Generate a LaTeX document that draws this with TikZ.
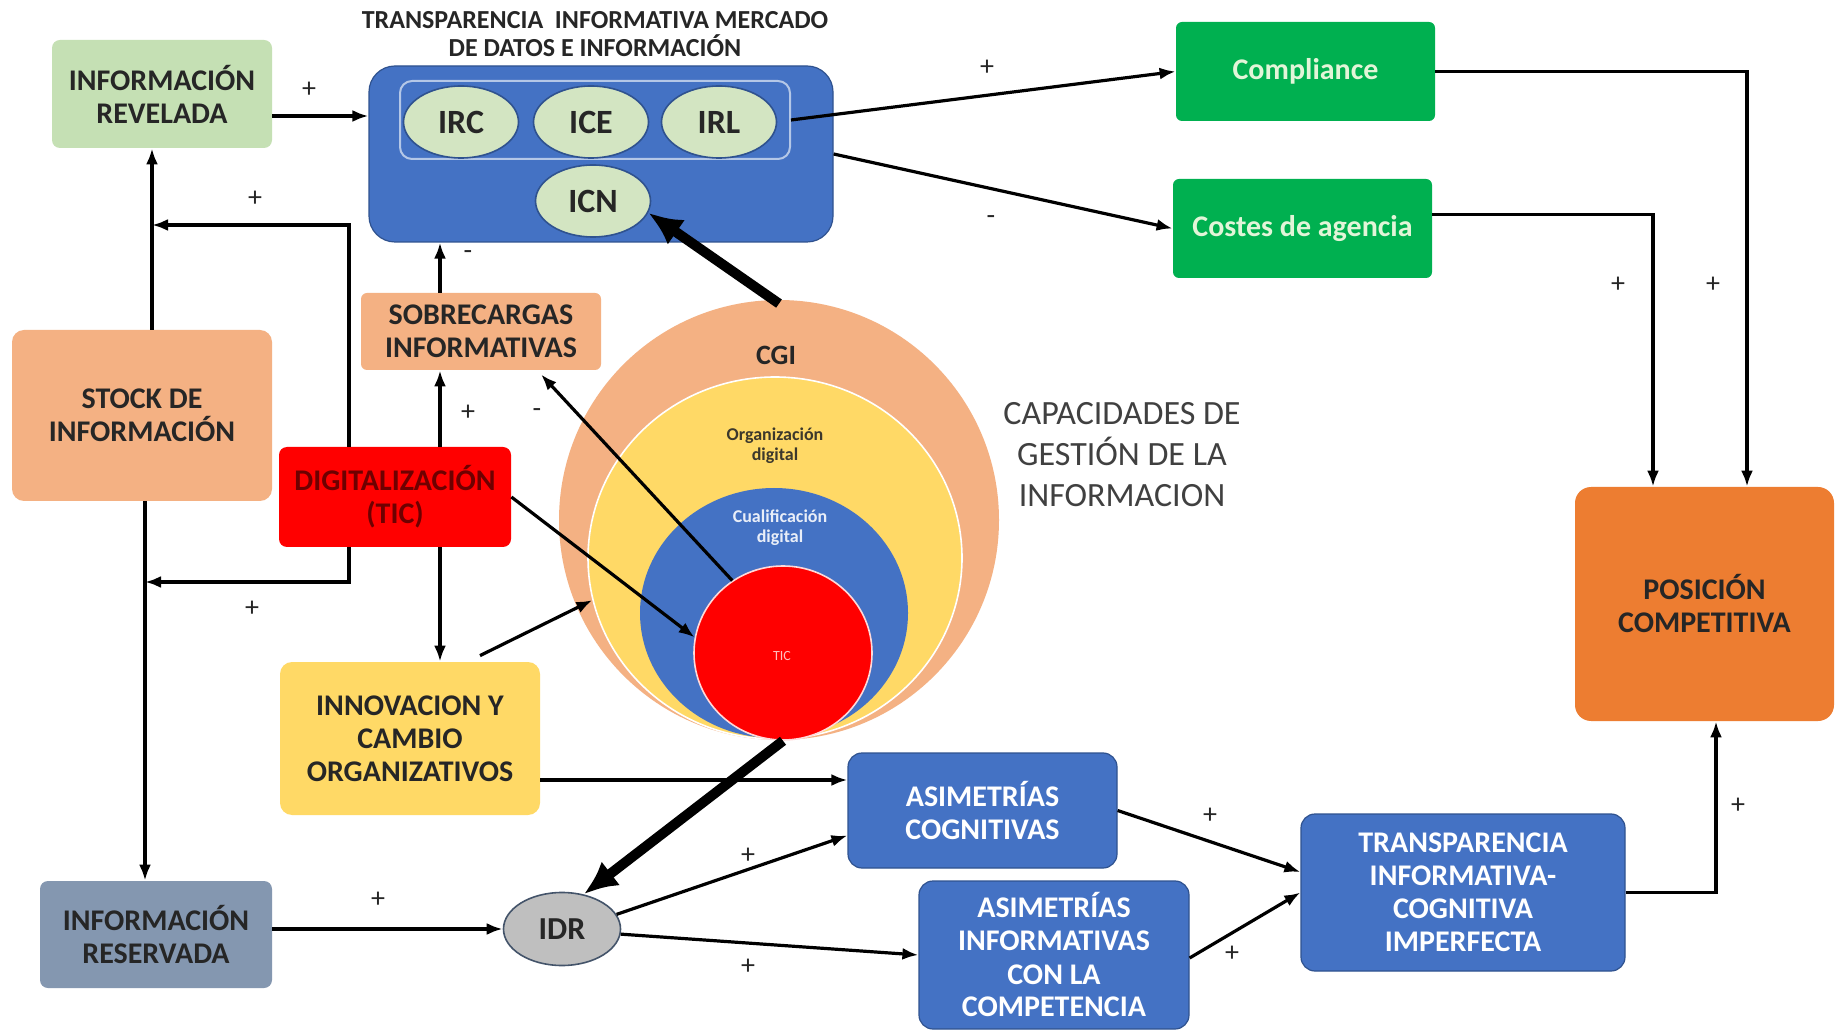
\documentclass[tikz,border=0pt]{standalone}
\usepackage{fontspec}
\setmainfont{Carlito}
\usetikzlibrary{arrows.meta,shapes.geometric,calc}

\definecolor{ink}{HTML}{262626}
\definecolor{softgreen}{HTML}{C5E0B4}
\definecolor{ovalgreen}{HTML}{D3E5C2}
\definecolor{mainblue}{HTML}{4472C4}
\definecolor{darkblue}{HTML}{2F528F}
\definecolor{lineblue}{HTML}{B4C7E7}
\definecolor{okgreen}{HTML}{00B050}
\definecolor{mint}{HTML}{E2F5D8}
\definecolor{salmon}{HTML}{F4B183}
\definecolor{sun}{HTML}{FFD966}
\definecolor{signalred}{HTML}{FF0000}
\definecolor{maroon}{HTML}{6E0000}
\definecolor{steel}{HTML}{8497B0}
\definecolor{stone}{HTML}{BFBFBF}
\definecolor{slate}{HTML}{44546A}
\definecolor{tangerine}{HTML}{ED7D31}
\definecolor{greytext}{HTML}{404040}

\newcommand{\bxfont}{\fontsize{15}{16.5}\selectfont\bfseries}
\newcommand{\sgnfont}{\fontsize{14}{14}\selectfont}

\begin{document}
\begin{tikzpicture}[x=0.5pt,y=-0.5pt,
  box/.style={rectangle, rounded corners=4pt, inner sep=0pt, align=center,
              text=ink, font=\bxfont},
  bluebox/.style={box, fill=mainblue, draw=darkblue, line width=0.6pt,
                  text=white, rounded corners=7pt},
  greenbox/.style={box, fill=okgreen, text=mint, rounded corners=3pt},
  oval/.style={ellipse, inner sep=0pt, fill=ovalgreen, draw=darkblue,
               line width=0.8pt, text=ink, font=\fontsize{17}{17}\selectfont\bfseries},
  ring/.style={ellipse, inner sep=0pt},
  arr/.style={-{Latex[length=8pt,width=6pt]}, line width=1.6pt, draw=black},
  heavyarr/.style={-{Latex[length=17pt,width=15pt]}, line width=5pt, draw=black},
  sign/.style={font=\sgnfont, text=ink, inner sep=0pt}]

\fill[white] (0,0) rectangle (1836,1031);
\useasboundingbox (0,0) rectangle (1836,1031);

% ---- nested capability ellipses ----
\node[ring, fill=salmon, minimum width=220pt, minimum height=220pt] (cgi) at (779,520) {};
\node[ring, fill=sun, draw=white, line width=0.8pt, minimum width=187pt, minimum height=181pt] (org) at (775,558) {};
\node[ring, fill=mainblue, minimum width=134pt, minimum height=125pt] (cual) at (774,613) {};
\node[ring, fill=signalred, draw=white!85!red, line width=0.8pt, minimum width=89pt, minimum height=87pt] (tic) at (783,653) {};
\node[text=ink, font=\fontsize{14}{14}\selectfont\bfseries] (cgit) at (776,355) {CGI};
\node[align=center, text=ink!90!sun, font=\fontsize{9}{10}\selectfont\bfseries] (orgt) at (775,446) {Organización\\digital};
\node[align=center, text=white!88!mainblue, font=\fontsize{9}{10}\selectfont\bfseries] (cualt) at (780,528) {Cualificación\\digital};
\node[text=white!75!red, font=\fontsize{7}{7}\selectfont] (tict) at (782,656) {TIC};

\node[align=center, text=greytext, font=\fontsize{17}{20.5}\selectfont] (capt) at (1122,455)
  {CAPACIDADES DE\\GESTIÓN DE LA\\INFORMACION};

% ---- market transparency block ----
\node[align=center, text=ink, font=\fontsize{13}{14}\selectfont\bfseries] (title) at (595,34)
  {TRANSPARENCIA\ \ INFORMATIVA MERCADO\\DE DATOS E INFORMACIÓN};
\node[rectangle, fill=mainblue, draw=darkblue, line width=0.6pt, rounded corners=13pt,
      minimum width=232pt, minimum height=88pt] (tim) at (601,154) {};
\node[rectangle, draw=lineblue, line width=1pt, rounded corners=6pt,
      minimum width=195pt, minimum height=39pt] (inner) at (595,120) {};
\node[oval, minimum width=57.5pt, minimum height=36pt] (irc) at (461,122) {IRC};
\node[oval, minimum width=57.5pt, minimum height=36pt] (ice) at (591,122) {ICE};
\node[oval, minimum width=57.5pt, minimum height=36pt] (irl) at (719,122) {IRL};
\node[oval, minimum width=57.5pt, minimum height=36pt] (icn) at (593,201) {ICN};

% ---- boxes ----
\node[box, fill=softgreen, minimum width=110pt, minimum height=54pt] (revelada) at (162,94) {INFORMACIÓN\\REVELADA};
\node[box, fill=salmon, minimum width=130pt, minimum height=85.5pt, rounded corners=6pt] (stock) at (142,415.5) {STOCK DE\\INFORMACIÓN};
\node[box, fill=salmon, minimum width=120pt, minimum height=38.5pt, rounded corners=3pt] (sobre) at (481,331.5) {SOBRECARGAS\\INFORMATIVAS};
\node[box, fill=signalred, text=maroon, minimum width=116pt, minimum height=50pt] (digit) at (395,497) {DIGITALIZACIÓN\\(TIC)};
\node[box, fill=sun, minimum width=130pt, minimum height=76.5pt, rounded corners=6pt] (innov) at (410,738.5) {INNOVACION Y\\CAMBIO\\ORGANIZATIVOS};
\node[box, fill=steel, minimum width=116pt, minimum height=53.5pt] (reservada) at (156,934.5) {INFORMACIÓN\\RESERVADA};
\node[ellipse, inner sep=0pt, fill=stone, draw=slate, line width=0.8pt, text=ink,
      font=\fontsize{16}{16}\selectfont\bfseries, minimum width=58.5pt, minimum height=36.5pt] (idr) at (562,929) {IDR};
\node[bluebox, minimum width=134.5pt, minimum height=57.5pt] (asimc) at (982.5,810.5) {ASIMETRÍAS\\COGNITIVAS};
\node[bluebox, minimum width=135pt, minimum height=74pt] (asimi) at (1054,955) {ASIMETRÍAS\\INFORMATIVAS\\CON LA\\COMPETENCIA};
\node[bluebox, minimum width=162pt, minimum height=78.5pt] (tici) at (1463,892.5) {TRANSPARENCIA\\INFORMATIVA-\\COGNITIVA\\IMPERFECTA};
\node[greenbox, minimum width=129.5pt, minimum height=49.5pt] (compliance) at (1305.5,71.5) {Compliance};
\node[greenbox, minimum width=129.5pt, minimum height=49.5pt] (costes) at (1302.5,228.5) {Costes de agencia};
\node[box, fill=tangerine, minimum width=129.5pt, minimum height=117pt, rounded corners=8pt] (posicion) at (1704.5,604) {POSICIÓN\\COMPETITIVA};

% ---- helper points for routed connectors ----
\coordinate (colA) at (440,0);
\coordinate (colU) at (152,0);
\coordinate (colL) at (145,0);
\coordinate (bendT) at (349,225);
\coordinate (bendB) at (349,582);
\coordinate (r1) at ([yshift=-11pt]revelada.east);
\coordinate (i1) at ([yshift=-20.75pt]innov.east);

% ---- connectors ----
\draw[arr] (r1) -- (r1 -| tim.west);
\draw[arr] (sobre.north -| colA) -- (tim.south -| colA);
\draw[arr] (digit.north -| colA) -- (sobre.south -| colA);
\draw[arr] (digit.south -| colA) -- (innov.north -| colA);
\draw[arr] (digit.north -| bendT) -- (bendT) -- (bendT -| colU);
\draw[arr] (digit.south -| bendB) -- (bendB) -- (bendB -| colL);
\draw[arr] (stock.north -| colU) -- (revelada.south -| colU);
\draw[arr] (stock.south -| colL) -- (reservada.north -| colL);
\draw[arr] (idr.west -| reservada.east) -- (idr.west);
\draw[arr] (idr.15) -- ([yshift=-12.5pt]asimc.west);
\draw[arr] (idr.-5) -- (asimi.west);
\draw[arr] (i1) -- (i1 -| asimc.west);
\draw[arr] ([xshift=35pt,yshift=3pt]innov.north) -- (org.193);
\draw[arr] (digit.east) -- (tic.170);
\draw[arr] (tic.125) -- ([xshift=30pt,yshift=-2pt]sobre.south);
\draw[heavyarr] ([yshift=-2pt]cgi.north) -- (icn.-12);
\draw[heavyarr] (tic.south) -- (idr.58);
\draw[arr] (inner.east) -- (compliance.west);
\draw[arr] (tim.east) -- (costes.west);
\draw[arr] (compliance.east) -| ([xshift=21.25pt]posicion.north);
\draw[arr] ([yshift=7pt]costes.east) -| ([xshift=-25.75pt]posicion.north);
\draw[arr] (tici.east) -| ([xshift=5.75pt]posicion.south);
\draw[arr] (asimc.east) -- ([yshift=10.25pt]tici.west);
\draw[arr] ([yshift=-1.5pt]asimi.east) -- (tici.west);

% ---- signs ----
\node[sign] (s1) at (309,90) {+};
\node[sign] (s2) at (255,199) {+};
\node[sign] (s3) at (252,609) {+};
\node[sign] (s4) at (468,255) {-};
\node[sign] (s5) at (468,413) {+};
\node[sign] (s6) at (537,413) {-};
\node[sign] (s7) at (987,68) {+};
\node[sign] (s8) at (991,220) {-};
\node[sign] (s9) at (1618,285) {+};
\node[sign] (s10) at (1713,285) {+};
\node[sign] (s11) at (1738,806) {+};
\node[sign] (s12) at (1210,816) {+};
\node[sign] (s13) at (1232,954) {+};
\node[sign] (s14) at (378,900) {+};
\node[sign] (s15) at (748,856) {+};
\node[sign] (s16) at (748,967) {+};

\end{tikzpicture}
\end{document}
